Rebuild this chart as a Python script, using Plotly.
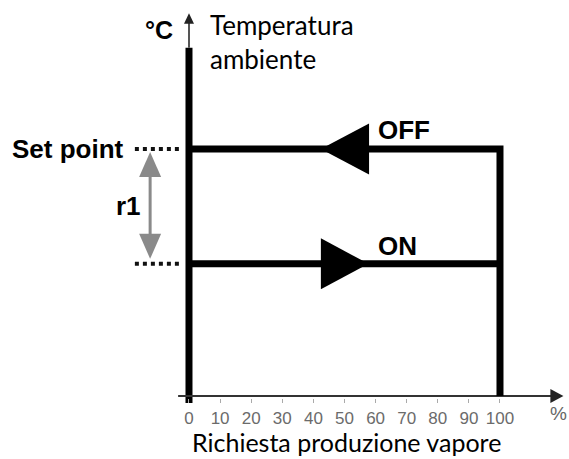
import plotly.graph_objects as go

# ---- data (schematic hysteresis of humidifier steam production) ----
SET_POINT = 21.5          # temperature level where production switches OFF (arbitrary units)
R1 = 10.0                 # differential r1
ON_LEVEL = SET_POINT - R1 # level where production switches ON
PROD_MAX = 100            # % steam production
TICK_VALUES = [0, 10, 20, 30, 40, 50, 60, 70, 80, 90, 100]
TICK_LABELS = ["0", "10", "20", "30", "40", "50", "60", "70", "80", "90", "100"]
ARROW_START = 42.4        # % where the direction triangles start
ARROW_END = 57.4          # % where the direction triangles end

# hysteresis path: ON line, right vertical, OFF line
PATH_X = [0, PROD_MAX, PROD_MAX, PROD_MAX, 0]
PATH_Y = [ON_LEVEL, ON_LEVEL, 0, SET_POINT, SET_POINT]

W, H = 569, 459
PLOT_H = 403
XR = [-60.77, 122.19]
YR = [-0.61, 34.46]
px_x = (XR[1] - XR[0]) / W          # x units per pixel
px_y = (YR[1] - YR[0]) / PLOT_H     # y units per pixel

fig = go.Figure()

# y axis (thick part) and x axis line
fig.add_trace(go.Scatter(x=[0, 0], y=[YR[0], 30.3], mode="lines",
                         line=dict(color="black", width=7), hoverinfo="skip"))
fig.add_trace(go.Scatter(x=[0, 0], y=[30.3, 32.6], mode="lines",
                         line=dict(color="#555", width=2), hoverinfo="skip"))
fig.add_trace(go.Scatter(x=[-3.5, 116.5], y=[0, 0], mode="lines",
                         line=dict(color="#333", width=2), hoverinfo="skip"))

# hysteresis loop
fig.add_trace(go.Scatter(x=PATH_X, y=PATH_Y, mode="lines",
                         line=dict(color="black", width=7), hoverinfo="skip"))

# dotted reference lines
for lvl in (SET_POINT, ON_LEVEL):
    fig.add_trace(go.Scatter(x=[-17.4, -2.3], y=[lvl, lvl], mode="lines",
                             line=dict(color="#111", width=4, dash="dot"), hoverinfo="skip"))

# gray r1 shaft
GX = -12.5
fig.add_trace(go.Scatter(x=[GX, GX], y=[SET_POINT - 2.0, ON_LEVEL + 2.0], mode="lines",
                         line=dict(color="#8a8a8a", width=3), hoverinfo="skip"))

shapes = []
def tri(points, color):
    d = "M " + " L ".join(f"{x},{y}" for x, y in points) + " Z"
    shapes.append(dict(type="path", path=d, xref="x", yref="y",
                       fillcolor=color, line=dict(width=0), layer="above"))

hh = 25.5 * px_y   # half height of direction triangles
# OFF triangle pointing left
tri([(ARROW_START, SET_POINT), (ARROW_END + 0.5, SET_POINT + hh), (ARROW_END + 0.5, SET_POINT - hh)], "black")
# ON triangle pointing right
tri([(ARROW_END + 0.3, ON_LEVEL), (ARROW_START, ON_LEVEL + hh), (ARROW_START, ON_LEVEL - hh)], "black")

# r1 gray arrowheads
ahw = 11 * px_x
ahh = 25 * px_y
top_tip = SET_POINT - 3 * px_y
bot_tip = ON_LEVEL + 5 * px_y
tri([(GX, top_tip), (GX - ahw, top_tip - ahh), (GX + ahw, top_tip - ahh)], "#8a8a8a")
tri([(GX, bot_tip), (GX - ahw, bot_tip + ahh), (GX + ahw, bot_tip + ahh)], "#8a8a8a")

# axis arrowheads
tri([(0, 33.3), (-5 * px_x, 32.4), (5 * px_x, 32.4)], "#222")
tri([(120.4, 0), (116.2, 7 * px_y), (116.2, -7 * px_y)], "#222")

fig.update_layout(shapes=shapes)

ann = []
BOLD = "Liberation Sans, Arial, sans-serif"
def A(text, x, y, xa="center", ya="middle", size=25, family=BOLD, color="black",
      bold=True, align="left", ref="data"):
    t = f"<b>{text}</b>" if bold else text
    if ref == "data":
        xr, yr = "x", "y"
    else:   # pixel position converted to paper coordinates
        xr, yr = "paper", "paper"
        x, y = x / W, (PLOT_H - y) / PLOT_H
    ann.append(dict(text=t, x=x, y=y, xref=xr, yref=yr, xanchor=xa, yanchor=ya,
                    showarrow=False, font=dict(size=size, family=family, color=color), align=align))

A("Set point", -20.3, SET_POINT, xa="right", size=26)
A("r1", -19.6, (SET_POINT + ON_LEVEL) / 2, size=26)
A("OFF", 60.2, SET_POINT + 1.65, xa="left", size=26)
A("ON", 60.2, ON_LEVEL + 1.57, xa="left", size=26)
A("°C", -9.6, 31.85, size=25)
A("Temperatura<br>ambiente", 6.2, 30.8, xa="left", size=26, family="Lato, sans-serif", bold=False)
A("Richiesta produzione vapore", 346.5, 442, size=25, family="Lato, sans-serif", bold=False, ref="px")
A("%", 558, 414, size=19, family="Liberation Sans, Arial, sans-serif", color="#666", bold=False, ref="px")
fig.update_layout(annotations=ann)

fig.update_layout(
    width=W, height=H,
    margin=dict(l=0, r=0, t=0, b=H - PLOT_H, pad=0),
    paper_bgcolor="white", plot_bgcolor="white",
    showlegend=False,
    xaxis=dict(range=XR, tickvals=TICK_VALUES, ticktext=TICK_LABELS,
               showgrid=False, zeroline=False, showline=False,
               ticks="inside", ticklen=4, tickcolor="#aaa", tickwidth=1,
               ticklabelstandoff=3,
               tickfont=dict(family="Liberation Sans, Arial, sans-serif", size=17, color="#6b6b6b"),
               fixedrange=True),
    yaxis=dict(range=YR, visible=False, fixedrange=True),
)

fig.write_html("out.html", config={"displayModeBar": False},
               post_script="document.body.style.margin='0px';")
